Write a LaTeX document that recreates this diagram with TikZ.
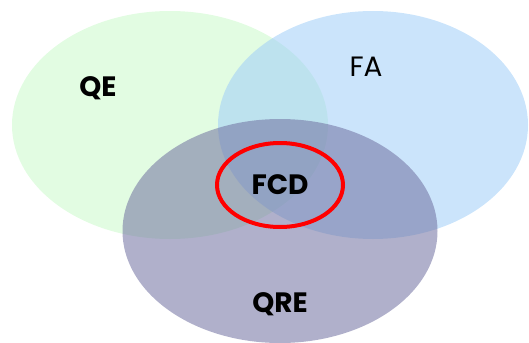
\documentclass[tikz,border=0pt]{standalone}
\usepackage{fontspec}
\newfontfamily\vennfont{Poppins}
\usetikzlibrary{shapes.geometric}

\definecolor{qegreen}{RGB}{226,252,226}
\definecolor{fablue}{RGB}{160,206,248}
\definecolor{qrepurple}{RGB}{112,112,160}

\tikzset{
  set/.style={ellipse, draw=none, inner sep=0pt},
  setlabel/.style={font=\vennfont\fontsize{28}{30}\selectfont\bfseries, text=black},
}

\begin{document}
\begin{tikzpicture}[x=1pt,y=1pt]
  \useasboundingbox (0,0) rectangle (529,-342);

  % the three sets
  \node[set, fill=qegreen, minimum width=316, minimum height=228] (qe) at (170,-125) {};
  \node[set, fill=fablue, fill opacity=0.55, minimum width=310, minimum height=228] (fa) at (373,-125) {};
  \node[set, fill=qrepurple, fill opacity=0.55, minimum width=315, minimum height=224] (qre) at (280,-231) {};

  % highlight of the common part
  \node[ellipse, draw=red, line width=4pt, minimum width=126, minimum height=84] (fcdring) at (280,-185) {};

  \node[setlabel] (qelabel) at (98,-88) {QE};
  \node[setlabel, font=\vennfont\fontsize{28}{30}\selectfont] (falabel) at (366,-67) {FA};
  \node[setlabel] (fcdlabel) at (fcdring) {FCD};
  \node[setlabel] (qrelabel) at (280,-304) {QRE};
\end{tikzpicture}
\end{document}
